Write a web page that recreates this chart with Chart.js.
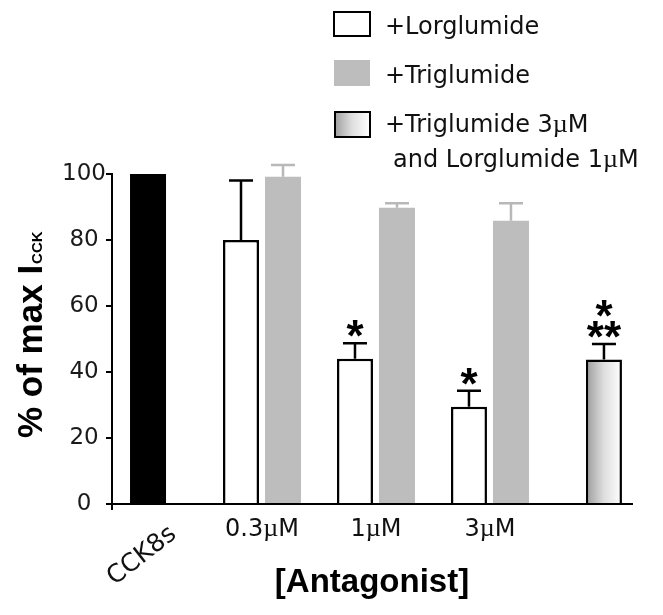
<!DOCTYPE html>
<html>
<head>
<meta charset="utf-8">
<script src="https://cdn.jsdelivr.net/npm/chart.js@4.4.1/dist/chart.umd.min.js"></script>
<style>
  html, body { margin: 0; padding: 0; background: #fff; }
  #wrap { width: 663px; height: 615px; }
</style>
</head>
<body>
<div id="wrap"><canvas id="chart" width="663" height="615"></canvas></div>
<script>
var groups = ["CCK8s", "0.3\u00b5M", "1\u00b5M", "3\u00b5M", ""];
var control = [100, null, null, null, null];
var lorglumide = [null, 80, 44, 29.5, null];
var lorglumideErr = [null, 18, 4.7, 4.8, null];
var lorglumideSig = ["", "", "*", "*", ""];
var triglumide = [null, 99.2, 89.8, 85.8, null];
var triglumideErr = [null, 3.5, 1.3, 5.3, null];
var combined = [null, null, null, null, 43.8];
var combinedErr = [null, null, null, null, 4.7];
var combinedSig = ["", "", "", "", "*\n**"];
var yTicks = [0, 20, 40, 60, 80, 100];
var legendLabels = ["+Lorglumide", "+Triglumide", "+Triglumide 3\u00b5M", "and Lorglumide 1\u00b5M"];
var yTitle = "% of max I";
var yTitleSub = "CCK";
var xTitle = "[Antagonist]";

(function () {
  "use strict";

  var GRAY = "#bdbdbd";
  var GRAY_ERR = "#b8b8b8";
  var SANS = "'DejaVu Sans', sans-serif";
  var BOLD = "bold {s}px 'Liberation Sans', Arial, sans-serif";

  function bold(size) { return BOLD.replace("{s}", size); }

  function points(values) {
    return values.map(function (v, i) { return { x: i, y: v }; });
  }

  function barGradient(ctx, x, w) {
    var g = ctx.createLinearGradient(x - w / 2, 0, x + w / 2, 0);
    g.addColorStop(0, "#9c9c9c");
    g.addColorStop(0.5, "#dedede");
    g.addColorStop(1, "#ffffff");
    return g;
  }

  // text with a serif micro sign, like the original figure
  function drawMixed(ctx, text, x, y, size, align) {
    var parts = text.split("\u00b5");
    var segs = [];
    parts.forEach(function (p, i) {
      if (p) segs.push({ t: p, f: size + "px " + SANS });
      if (i < parts.length - 1) segs.push({ t: "\u00b5", f: (size + 2) + "px 'Liberation Serif', serif" });
    });
    var total = 0;
    segs.forEach(function (s) { ctx.font = s.f; s.w = ctx.measureText(s.t).width; total += s.w; });
    var cx = align === "center" ? x - total / 2 : x;
    ctx.textAlign = "left";
    segs.forEach(function (s) { ctx.font = s.f; ctx.fillText(s.t, cx, y); cx += s.w; });
  }

  function drawErrors(chart, dsIndex, values, errs, color) {
    var ctx = chart.ctx;
    var meta = chart.getDatasetMeta(dsIndex);
    var yScale = chart.scales.y;
    ctx.save();
    ctx.strokeStyle = color;
    ctx.lineWidth = 2.5;
    values.forEach(function (v, i) {
      if (v == null || errs[i] == null) return;
      var bar = meta.data[i];
      var top = yScale.getPixelForValue(v + errs[i]);
      ctx.beginPath();
      ctx.moveTo(bar.x, bar.y);
      ctx.lineTo(bar.x, top);
      ctx.moveTo(bar.x - 12, top);
      ctx.lineTo(bar.x + 12, top);
      ctx.stroke();
    });
    ctx.restore();
  }

  function drawStars(chart, dsIndex, values, errs, marks) {
    var ctx = chart.ctx;
    var meta = chart.getDatasetMeta(dsIndex);
    var yScale = chart.scales.y;
    ctx.save();
    ctx.fillStyle = "#000";
    ctx.font = bold(44);
    ctx.textAlign = "center";
    marks.forEach(function (m, i) {
      if (!m || values[i] == null) return;
      var bar = meta.data[i];
      var bottom = yScale.getPixelForValue(values[i] + errs[i]) - 6;
      var lines = m.split("\n").reverse();
      lines.forEach(function (line) {
        var tm = ctx.measureText(line);
        ctx.fillText(line, bar.x, bottom - tm.actualBoundingBoxDescent);
        bottom -= 21;
      });
    });
    ctx.restore();
  }

  var decorations = {
    id: "decorations",
    afterDatasetsDraw: function (chart) {
      drawErrors(chart, 1, lorglumide, lorglumideErr, "#000");
      drawErrors(chart, 2, triglumide, triglumideErr, GRAY_ERR);
      drawErrors(chart, 3, combined, combinedErr, "#000");
      drawStars(chart, 1, lorglumide, lorglumideErr, lorglumideSig);
      drawStars(chart, 3, combined, combinedErr, combinedSig);
    },
    afterDraw: function (chart) {
      var ctx = chart.ctx;
      var area = chart.chartArea;
      var xs = chart.scales.x;
      ctx.save();
      ctx.fillStyle = "#111";
      ctx.textBaseline = "alphabetic";

      // small stub of the y axis below the x axis
      ctx.strokeStyle = "#000";
      ctx.lineWidth = 2;
      ctx.beginPath();
      ctx.moveTo(area.left, area.bottom);
      ctx.lineTo(area.left, area.bottom + 6);
      ctx.stroke();

      // category labels
      groups.forEach(function (g, i) {
        if (!g) return;
        var px = xs.getPixelForValue(i);
        if (i === 0) {
          ctx.save();
          ctx.translate(px - 6, 556);
          ctx.rotate(-38 * Math.PI / 180);
          ctx.font = "25px " + SANS;
          ctx.textAlign = "center";
          ctx.textBaseline = "middle";
          ctx.fillText(g, 0, 0);
          ctx.restore();
        } else {
          drawMixed(ctx, g, px, 536, 24, "center");
        }
      });

      // axis titles
      ctx.fillStyle = "#000";
      ctx.font = bold(33);
      ctx.textAlign = "center";
      ctx.fillText(xTitle, (area.left + area.right) / 2, 592);

      ctx.save();
      ctx.translate(42, 438);
      ctx.rotate(-Math.PI / 2);
      ctx.textAlign = "left";
      ctx.font = bold(35);
      ctx.fillText(yTitle, 0, 0);
      var w = ctx.measureText(yTitle).width;
      ctx.font = bold(15);
      ctx.fillText(yTitleSub, w + 1, 0);
      ctx.restore();

      // legend
      ctx.lineWidth = 2;
      ctx.strokeStyle = "#000";
      ctx.fillStyle = "#fff";
      ctx.fillRect(334, 12, 36, 24);
      ctx.strokeRect(334, 12, 36, 24);
      ctx.fillStyle = GRAY;
      ctx.fillRect(334, 60, 36, 26);
      ctx.fillStyle = barGradient(ctx, 352, 36);
      ctx.fillRect(335, 112, 35, 25);
      ctx.strokeRect(335, 112, 35, 25);

      ctx.fillStyle = "#111";
      drawMixed(ctx, legendLabels[0], 385, 34, 24, "left");
      drawMixed(ctx, legendLabels[1], 385, 83, 24, "left");
      drawMixed(ctx, legendLabels[2], 385, 132, 24, "left");
      drawMixed(ctx, legendLabels[3], 393, 167, 24, "left");
      ctx.restore();
    }
  };

  new Chart(document.getElementById("chart"), {
    type: "bar",
    data: {
      datasets: [
        {
          label: groups[0],
          data: points(control),
          backgroundColor: "#000",
          borderWidth: 0
        },
        {
          label: "+Lorglumide",
          data: points(lorglumide),
          backgroundColor: "#fff",
          borderColor: "#000",
          borderWidth: 2.5,
          borderSkipped: "start"
        },
        {
          label: "+Triglumide",
          data: points(triglumide),
          backgroundColor: GRAY,
          borderWidth: 0
        },
        {
          label: "+Triglumide 3\u00b5M and Lorglumide 1\u00b5M",
          data: points(combined),
          backgroundColor: function (c) {
            if (!c.chart.chartArea || !c.parsed) return GRAY;
            return barGradient(c.chart.ctx, c.chart.scales.x.getPixelForValue(c.parsed.x), 36);
          },
          borderColor: "#000",
          borderWidth: 2.5,
          borderSkipped: "start"
        }
      ]
    },
    options: {
      responsive: false,
      animation: false,
      skipNull: true,
      categoryPercentage: 0.737,
      barPercentage: 0.857,
      maxBarThickness: 36,
      layout: { padding: { top: 174, right: 31, left: 0, bottom: 0 } },
      plugins: {
        legend: { display: false },
        tooltip: { enabled: false }
      },
      scales: {
        x: {
          type: "linear",
          offset: false,
          min: -0.316,
          max: 4.246,
          afterFit: function (s) { s.height = 111; },
          afterBuildTicks: function (s) {
            s.ticks = groups.map(function (g, i) { return { value: i }; });
          },
          border: { color: "#000", width: 2 },
          grid: { display: false, offset: false },
          ticks: { display: false }
        },
        y: {
          min: 0,
          max: 100,
          afterFit: function (s) { s.width = 112; },
          afterBuildTicks: function (s) {
            s.ticks = yTicks.map(function (v) { return { value: v }; });
          },
          border: { color: "#000", width: 2 },
          grid: { drawOnChartArea: false, color: "#000", lineWidth: 2, tickLength: 6 },
          ticks: {
            color: "#1a1a1a",
            padding: 0,
            crossAlign: "center",
            font: { family: "'DejaVu Sans', sans-serif", size: 23 }
          }
        }
      }
    },
    plugins: [decorations]
  });
})();
</script>
</body>
</html>
